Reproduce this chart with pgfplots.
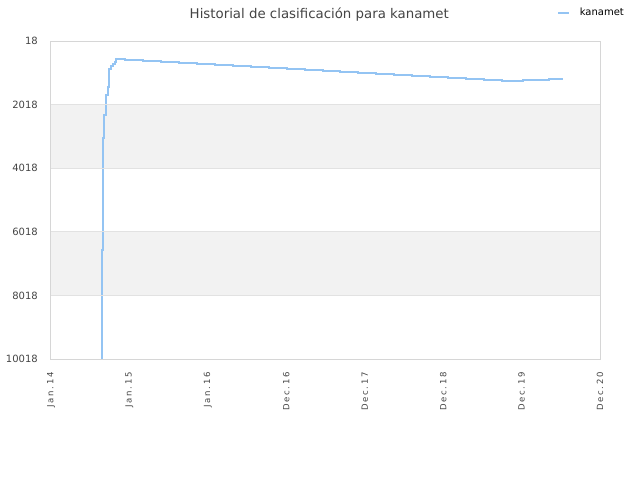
\documentclass[border=0pt]{standalone}
\usepackage{pgfplots}
\pgfplotsset{compat=1.18}
\usepackage{fontspec}
\setmainfont{DejaVu Sans}
\newfontfamily\spaced[LetterSpace=20]{DejaVu Sans}

\definecolor{linecol}{RGB}{148,196,243}
\definecolor{bandcol}{RGB}{242,242,242}
\definecolor{gridcol}{RGB}{226,226,226}
\definecolor{framecol}{RGB}{214,214,214}
\definecolor{txtcol}{RGB}{68,68,68}

\begin{document}
\begin{tikzpicture}
\useasboundingbox (0,0) rectangle (480pt,360pt);
\begin{axis}[
    at={(38.25pt,90.75pt)}, anchor=south west,
    scale only axis,
    width=411.75pt, height=238.5pt,
    xmin=0, xmax=2555,
    ymin=18, ymax=10018,
    y dir=reverse,
    scaled y ticks=false,
    scaled x ticks=false,
    xtick={0,365,730,1095,1460,1825,2190,2555},
    xticklabels={Jan.14,Jan.15,Jan.16,Dec.16,Dec.17,Dec.18,Dec.19,Dec.20},
    ytick={18,2018,4018,6018,8018,10018},
    yticklabels={18,2018,4018,6018,8018,10018},
    major tick length=0pt,
    ymajorgrids,
    grid style={gridcol, line width=0.75pt},
    axis line style={framecol, line width=0.75pt},
    axis on top,
    yticklabel style={font=\fontsize{7.5}{9}\selectfont, text=txtcol, inner sep=0pt, anchor=east},
    yticklabel shift=9.75pt,
    xticklabel style={font=\spaced\fontsize{6.4}{7.5}\selectfont, text=txtcol, inner sep=0pt, rotate=90, anchor=east},
    xticklabel shift=9.75pt,
    title={Historial de clasificación para kanamet},
    title style={at={(0.4887,1.046)}, anchor=base, inner sep=0pt,
        font=\fontsize{10}{12}\selectfont, text=txtcol},
    legend style={at={(0.9222,1.0881)}, anchor=west, draw=none, fill=none,
        font=\fontsize{7.5}{9}\selectfont, inner sep=0pt,
        nodes={inner sep=0pt}, column sep=7.5pt},
    legend image code/.code={\draw[#1] (0pt,0pt) -- (7.8pt,0pt);},
]
\addplot[fill=bandcol, draw=none, forget plot] coordinates {(0,2018) (2555,2018) (2555,4018) (0,4018)} -- cycle;
\addplot[fill=bandcol, draw=none, forget plot] coordinates {(0,6018) (2555,6018) (2555,8018) (0,8018)} -- cycle;

\addplot[const plot, linecol, line width=1.4pt] coordinates {
    (230,10600) (237,6590) (242,3068) (246,2345) (254,1716) (264,1465)
    (271,899) (279,804) (287,741) (298,678) (302,575)
    (344,606) (427,647) (511,678) (596,710) (680,742) (763,773)
    (847,805) (931,836) (1015,867) (1098,899) (1182,930) (1266,962)
    (1345,993) (1429,1024) (1513,1056) (1596,1087) (1680,1119)
    (1764,1150) (1848,1182) (1931,1213) (2015,1245) (2099,1276)
    (2195,1245) (2318,1204) (2381,1204)
};
\addlegendentry{kanamet}
\end{axis}
\end{tikzpicture}
\end{document}
